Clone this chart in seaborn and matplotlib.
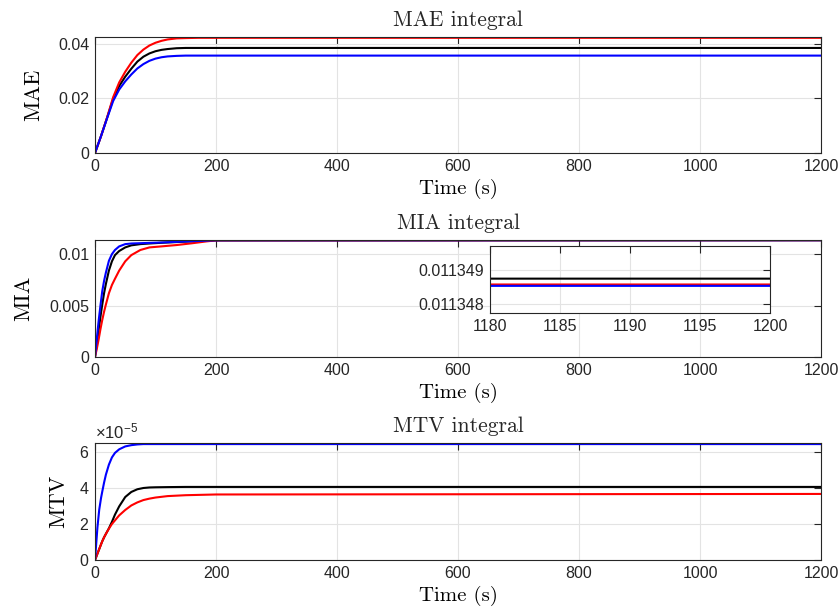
import numpy as np
import pandas as pd
import matplotlib
matplotlib.use("Agg")
import matplotlib.pyplot as plt
from matplotlib.ticker import FuncFormatter, ScalarFormatter
import seaborn as sns

# ---- MAE integral ----
t_mae = [0, 10, 20, 30, 40, 50, 60, 70, 80, 90, 100, 110, 120, 135, 150, 170, 1200]
mae_black = [0, 0.0062, 0.0129, 0.0198, 0.0245, 0.0279, 0.0308, 0.0334, 0.0352, 0.0364,
             0.0372, 0.0377, 0.0380, 0.0383, 0.0384, 0.0384, 0.0384]
mae_red = [0, 0.0062, 0.0130, 0.0204, 0.0258, 0.0297, 0.0330, 0.0358, 0.0378, 0.0393,
           0.0403, 0.0410, 0.0415, 0.0419, 0.0420, 0.0421, 0.0421]
mae_blue = [0, 0.0062, 0.0127, 0.0190, 0.0232, 0.0262, 0.0287, 0.0309, 0.0325, 0.0337,
            0.0345, 0.0350, 0.0353, 0.0355, 0.0356, 0.0356, 0.0356]

# ---- MIA integral ----
t_mia = [0, 3, 6, 9, 12, 15, 18, 23, 28, 33, 40, 50, 60, 75, 90, 110, 135, 160, 185, 200, 1180, 1200]
mia_black = [0, 0.0012, 0.0026, 0.0039, 0.0051, 0.0062, 0.0071, 0.0084, 0.0093, 0.0099, 0.0103,
             0.01065, 0.01085, 0.01097, 0.01103, 0.0111, 0.01117, 0.01124, 0.0113, 0.01133,
             0.01134875, 0.01134875]
mia_red = [0, 0.0008, 0.0017, 0.0027, 0.0036, 0.0044, 0.0051, 0.0062, 0.0070, 0.0076, 0.0084,
           0.0093, 0.0099, 0.0104, 0.01065, 0.01075, 0.01088, 0.01105, 0.01124, 0.01133,
           0.01134858, 0.01134858]
mia_blue = [0, 0.0018, 0.0035, 0.0050, 0.0064, 0.0074, 0.0082, 0.00935, 0.0100, 0.0104, 0.01075,
            0.01097, 0.01103, 0.01106, 0.01109, 0.01113, 0.01119, 0.01125, 0.01131, 0.01134,
            0.01134854, 0.01134854]

# ---- MTV integral (x 1e-5) ----
t_mtv = [0, 2, 4, 7, 10, 12, 15, 18, 23, 28, 33, 40, 50, 60, 70, 80, 90, 100, 120, 150, 200, 1200]
mtv_black = [0, 0.17, 0.35, 0.61, 0.87, 1.04, 1.26, 1.45, 1.76, 2.12, 2.52, 2.98, 3.50, 3.78,
             3.93, 4.00, 4.03, 4.04, 4.05, 4.06, 4.06, 4.06]
mtv_red = [0, 0.17, 0.35, 0.61, 0.87, 1.04, 1.26, 1.45, 1.74, 2.00, 2.20, 2.48, 2.78, 3.03,
           3.20, 3.33, 3.41, 3.47, 3.55, 3.60, 3.64, 3.67]
mtv_blue = [0, 0.90, 1.80, 2.80, 3.45, 3.80, 4.30, 4.74, 5.30, 5.70, 5.95, 6.15, 6.31, 6.38,
            6.42, 6.44, 6.44, 6.44, 6.44, 6.44, 6.44, 6.44]
mtv_scale = 1e-5

x_ticks = [0, 200, 400, 600, 800, 1000, 1200]
inset_x_ticks = [1180, 1185, 1190, 1195, 1200]
inset_y_ticks = [0.011348, 0.011349]

sns.set_style("white")
plt.rcParams["font.family"] = ["Liberation Sans", "DejaVu Sans"]
plt.rcParams["mathtext.fontset"] = "custom"
plt.rcParams["mathtext.rm"] = "Liberation Sans"
plt.rcParams["mathtext.it"] = "Liberation Sans:italic"
plt.rcParams["mathtext.bf"] = "Liberation Sans:bold"

AX_COLOR = "#262626"
GRID_COLOR = "#e3e3e3"
SERIF = ["cmr10", "DejaVu Serif"]
LW = 1.5
TICK_FS = 11.5
LABEL_FS = 15
TITLE_FS = 15.5
YLABEL_FS = 16

fig = plt.figure(figsize=(8.38, 6.13), dpi=100)

L, W = 95 / 838, 726 / 838
ax_mae = fig.add_axes([L, 1 - 153 / 613, W, 116 / 613])
ax_mia = fig.add_axes([L, 1 - 357 / 613, W, 117 / 613])
ax_mtv = fig.add_axes([L, 1 - 560 / 613, W, 117 / 613])


def style_axes(ax, labelsize=TICK_FS):
    ax.set_facecolor("white")
    ax.grid(True, color=GRID_COLOR, lw=0.8)
    ax.set_axisbelow(True)
    for s in ax.spines.values():
        s.set_visible(True)
        s.set_color(AX_COLOR)
        s.set_linewidth(0.8)
    ax.tick_params(direction="in", length=5, width=0.8, top=True, right=True,
                   color=AX_COLOR, labelcolor=AX_COLOR, labelsize=labelsize, pad=4)


def draw(ax, t, series):
    for vals, color in series:
        sns.lineplot(x=t, y=vals, color=color, lw=LW, ax=ax, estimator=None,
                     sort=False, legend=False)


g_fmt = FuncFormatter(lambda v, p: f"{v:g}")

# MAE
draw(ax_mae, t_mae, [(mae_black, "black"), (mae_red, "red"), (mae_blue, "blue")])
ax_mae.set_ylim(0, 0.0424)
ax_mae.set_yticks([0, 0.02, 0.04])
ax_mae.yaxis.set_major_formatter(g_fmt)
ax_mae.set_ylabel("MAE", fontsize=YLABEL_FS, family=SERIF, color="black")
ax_mae.yaxis.set_label_coords(-0.0716, 0.5)
ax_mae.set_title("MAE integral", fontsize=TITLE_FS, family=SERIF, pad=8)

# MIA
draw(ax_mia, t_mia, [(mia_black, "black"), (mia_red, "red"), (mia_blue, "blue")])
ax_mia.set_ylim(0, 0.01137)
ax_mia.set_yticks([0, 0.005, 0.01])
ax_mia.yaxis.set_major_formatter(g_fmt)
ax_mia.set_ylabel("MIA", fontsize=YLABEL_FS, family=SERIF, color="black")
ax_mia.yaxis.set_label_coords(-0.0854, 0.5)
ax_mia.set_title("MIA integral", fontsize=TITLE_FS, family=SERIF, pad=8)

# MTV
mtv_series = [(np.array(mtv_black) * mtv_scale, "black"),
              (np.array(mtv_red) * mtv_scale, "red"),
              (np.array(mtv_blue) * mtv_scale, "blue")]
draw(ax_mtv, t_mtv, mtv_series)
ax_mtv.set_ylim(0, 6.5e-5)
ax_mtv.set_yticks([0, 2e-5, 4e-5, 6e-5])
sf = ScalarFormatter(useMathText=True)
sf.set_powerlimits((-3, 3))
ax_mtv.yaxis.set_major_formatter(sf)
ax_mtv.set_ylabel("MTV", fontsize=YLABEL_FS, family=SERIF, color="black")
ax_mtv.yaxis.set_label_coords(-0.037, 0.5)
ax_mtv.set_title("MTV integral", fontsize=TITLE_FS, family=SERIF, pad=8)

for ax in (ax_mae, ax_mia, ax_mtv):
    ax.set_xlim(0, 1200)
    ax.set_xticks(x_ticks)
    ax.set_xlabel("Time (s)", fontsize=LABEL_FS, family=SERIF, labelpad=4, color="black")
    style_axes(ax)
ax_mtv.yaxis.get_offset_text().set_color(AX_COLOR)
ax_mtv.yaxis.get_offset_text().set_fontsize(12)

# Zoomed view of the MIA plateau
ax_in = fig.add_axes([490 / 838, 1 - 313 / 613, 280 / 838, 67 / 613])
draw(ax_in, t_mia, [(mia_black, "black"), (mia_red, "red"), (mia_blue, "blue")])
ax_in.set_xlim(1180, 1200)
ax_in.set_ylim(0.01134775, 0.0113497)
ax_in.set_xticks(inset_x_ticks)
ax_in.set_yticks(inset_y_ticks)
ax_in.yaxis.set_major_formatter(FuncFormatter(lambda v, p: f"{v:.6f}"))
ax_in.set_xlabel("")
ax_in.set_ylabel("")
style_axes(ax_in)

fig.savefig("out.png", dpi=100)
